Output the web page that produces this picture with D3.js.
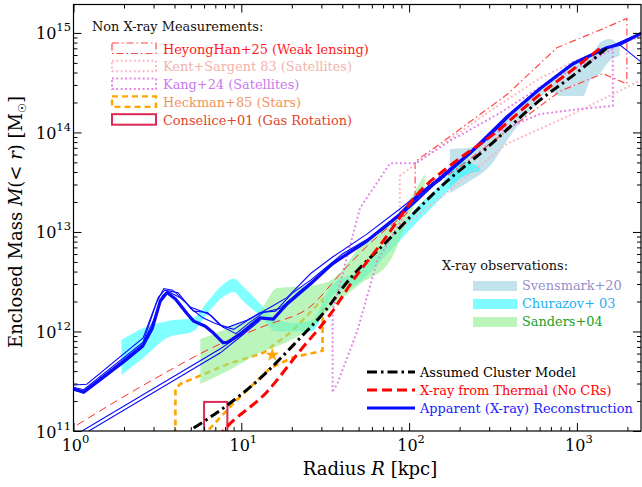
<!DOCTYPE html>
<html><head><meta charset="utf-8">
<script src="https://cdn.jsdelivr.net/npm/d3@7"></script>
<style>
body{margin:0;background:#fff;}
svg{display:block;}
text{font-family:"DejaVu Serif","Liberation Serif",serif;}
</style></head><body>
<svg id="chart" width="642" height="487"></svg>
<script>
// ---------------- DATA ----------------
const xTickVals = [1, 10, 100, 1000];
const yTickVals = [1e11, 1e12, 1e13, 1e14, 1e15];

// Assumed cluster model (black dash-dot)  [r kpc, M Msun]
const assumedModel = [[5.2,1.07e11],[8,1.75e11],[13,3.4e11],[22.4,8.6e11],[30,1.45e12],[44.5,3.4e12],[74,8.1e12],[105,1.5e13],[153,2.8e13],[291,7.0e13],[600,2.1e14],[1000,4.0e14],[1500,7.0e14]];
// X-ray from thermal (red dashed)
const thermalXray = [[7.2,0.85e11],[7.8,1e11],[14.3,2.5e11],[22.4,6.4e11],[35,1.6e12],[46,3.2e12],[70,8.1e12],[112,2.4e13],[183,4.9e13],[316,9.5e13],[600,2.4e14],[1000,4.6e14],[1400,7.2e14]];
// thin red dashed
const thinRedDashed = [[1.05,1.15e11],[3,3.3e11],[7.5,7.5e11],[14,1.15e12],[26,1.8e12],[40,4e12],[60,8e12],[100,1.6e13]];

// Apparent (X-ray) reconstruction: thick + thin realisations
const apparentThick = [[1.0,2.65e11],[1.15,2.45e11],[1.45,3.3e11],[2.0,5.0e11],[2.58,7.1e11],[2.95,1.08e12],[3.29,2.03e12],[3.61,2.46e12],[4.05,2.12e12],[4.77,1.5e12],[5.2,1.27e12],[6.1,1.13e12],[6.8,9.7e11],[7.8,7.7e11],[8.3,7.8e11],[9.8,9.4e11],[12.9,1.37e12],[15.5,1.33e12],[18.8,1.9e12],[25.8,3.0e12],[35,4.8e12],[56,8.1e12],[88,1.5e13],[116,2.4e13],[153,3.4e13],[231,6.2e13],[383,1.43e14],[602,2.75e14],[945,4.9e14],[1510,7.1e14],[1800,7.7e14],[2450,1.0e15]];
const apparentThinA = [[1.0,2.9e11],[1.2,2.95e11],[2.6,8.6e11],[3.1,1.9e12],[3.45,2.7e12],[3.9,2.6e12],[4.5,2.1e12],[5.2,1.6e12],[6.3,1.55e12],[7.5,1.15e12],[9,1.05e12],[10.8,1.28e12],[14.3,1.68e12],[18.8,2.2e12],[25.8,3.8e12],[35,5.6e12],[56,9.5e12],[90,1.75e13],[150,3.5e13],[231,6.4e13],[383,1.47e14],[602,2.8e14],[945,4.95e14],[1500,7.2e14],[1800,7.6e14],[2450,5.0e14]];
const apparentThinB = [[1.0,2.75e11],[1.15,2.6e11],[2.6,7.8e11],[3.2,2.2e12],[3.5,2.6e12],[4.2,2.45e12],[5.0,1.7e12],[5.9,1.37e12],[7,1.2e12],[8.3,1.1e12],[10.8,1.3e12],[13,1.55e12],[16,1.6e12],[20,2.4e12],[26,3.3e12],[40,6e12],[60,9e12],[95,1.6e13],[160,3.8e13],[240,6.5e13],[400,1.55e14],[620,2.9e14],[1000,5.1e14],[1600,7.3e14],[2450,1.02e15]];
const apparentThinC = [[1.0,2.55e11],[1.15,2.5e11],[2.58,7.4e11],[3.0,1.3e12],[3.4,2.3e12],[3.7,2.5e12],[4.3,2.2e12],[5,1.75e12],[5.8,1.6e12],[6.6,1.45e12],[7.8,1.1e12],[9.3,9.5e11],[11,1.2e12],[13.5,1.55e12],[17,1.7e12],[22,2.5e12],[30,3.8e12],[45,6.5e12],[70,1.05e13],[110,2e13],[170,4e13],[280,8e13],[450,1.8e14],[700,3.4e14],[1100,5.6e14],[1600,7.4e14],[2450,1.01e15]];
const apparentLow1 = [[1.0,0.89e11],[7.5,6.7e11],[10,9.3e11],[13,1.35e12]];
const apparentLow2 = [[1.0,0.81e11],[7.5,6.1e11],[10,9.0e11],[13,1.3e12]];

// X-ray observation bands
const churazovR  = [1.93,2.6,3.6,5.2,6.3,8.0,9.0,10.3,13,16,20,26,35,50,75,110,160,200,265];
const churazovLo = [3.66e11,5.4e11,8.6e11,1.01e12,1.53e12,2.3e12,2.5e12,2.0e12,1.43e12,1.0e12,1.0e12,1.0e12,2.27e12,3.07e12,6.1e12,1.23e13,2.3e13,3.4e13,4.1e13];
const churazovHi = [8.2e11,1.08e12,1.27e12,1.37e12,2.0e12,3.07e12,3.4e12,2.8e12,1.89e12,1.34e12,1.22e12,1.28e12,3.0e12,4.05e12,8.1e12,1.74e13,3.2e13,5.2e13,4.5e13];

const sandersR  = [5.7,8.27,12.9,16.4,25.8,35.3,51.3,77,101,124];
const sandersLo = [2.97e11,4.0e11,6.1e11,7.1e11,1.08e12,1.8e12,3.0e12,5.1e12,1.5e13,2.9e13];
const sandersHi = [8.4e11,1.08e12,1.61e12,2.74e12,2.87e12,3.37e12,7.2e12,1.2e13,2.15e13,3.83e13];

const svensmarkR  = [175,231,303,400,525,691,790,975,1090,1195,1370,1560,1800];
const svensmarkLo = [2.47e13,3.26e13,4.6e13,9.2e13,1.64e14,2.6e14,2.33e14,2.33e14,2.33e14,3.3e14,3.9e14,5.2e14,5.9e14];
const svensmarkHi = [6.8e13,7.0e13,9.9e13,1.57e14,2.33e14,3.3e14,3.7e14,5.0e14,5.5e14,5.6e14,7.9e14,8.7e14,7.4e14];

// Non X-ray measurements (outlines)
const heyongHan = [[108.6,2.2e13],[108.6,5.1e13],[153,7.7e13],[383,2.4e14],[760,7.1e14],[1430,1.1e15],[1985,1.4e15],[1985,3.07e14],[1430,3.9e14],[794,2.6e14],[400,1.1e14],[200,4.5e13]];
const kentSargent = [[88,3.65e13],[153,7.3e13],[303,1.64e14],[602,3.5e14],[1042,5.5e14],[2450,9.3e14],[2450,3.4e14],[945,1.53e14],[383,7.7e13],[153,2.2e13],[88,1.07e13]];
const kang = [[35,2.5e11],[35,1.6e12],[51,1.74e13],[77,4.9e13],[108.6,4.9e13],[175,8.2e13],[348,1.57e14],[691,3.3e14],[1195,5.2e14],[1637,6.9e14],[1637,1.85e14],[1042,1.72e14],[602,1.53e14],[348,1.04e14],[231,6.5e13],[153,3.65e13],[101,1.82e13],[64.5,5.1e12],[49,1.0e12],[37.3,2.97e11]];
const heckman = [[4.05,0.9e11],[4.05,2.64e11],[4.33,2.97e11],[8.3,4.7e11],[13.5,6.1e11],[20,1.0e12],[30.5,2.1e12],[30.5,6.4e11],[20.4,5.5e11],[14.9,4.3e11],[8.9,1.87e11],[6.3,1e11],[5.9,0.9e11]];
const heckmanStar = [15.3, 5.8e11];
const conselice = [[6.0,0.9e11],[8.26,1.96e11]];

// Legend labels
const nonXrayTitle = "Non X-ray Measurements:";
const nonXrayLabels = ["HeyongHan+25 (Weak lensing)","Kent+Sargent 83 (Satellites)","Kang+24 (Satellites)","Heckman+85 (Stars)","Conselice+01 (Gas Rotation)"];
const xrayTitle = "X-ray observations:";
const xrayLabels = ["Svensmark+20","Churazov+ 03","Sanders+04"];
const modelLabels = ["Assumed Cluster Model","X-ray from Thermal (No CRs)","Apparent (X-ray) Reconstruction"];

// ---------------- STYLES ----------------
const C = {
  heyong:"#ff4a4a", kent:"#ffb3bf", kang:"#e57fe8", heckman:"#ffa500", conselice:"#dc2a55",
  svensmark:"#add8e6", churazov:"#00ffff", sanders:"#90ee90", blue:"#0a0aff"
};
const nonXrayText = ["#ff1a1a","#f2b3aa","#cc77ee","#f4935c","#e0452a"];
const xrayText = ["#9490cc","#1ab2f5","#22a022"];
const modelText = ["#000","#ff0000","#2020ff"];

// ---------------- CHART ----------------
const svg = d3.select("#chart");
const L=73.5, R=641, T=4.5, B=431;
const x = d3.scaleLog().domain([1,2410]).range([L,R]);
const y = d3.scaleLog().domain([1e11,1.93e15]).range([B,T]);

svg.append("defs").append("clipPath").attr("id","clip")
  .append("rect").attr("x",L).attr("y",T).attr("width",R-L).attr("height",B-T);
const g = svg.append("g").attr("clip-path","url(#clip)");

const line = d3.line().x(d=>x(d[0])).y(d=>y(d[1]));
const smooth = d3.line().x(d=>x(d[0])).y(d=>y(d[1])).curve(d3.curveMonotoneX);
const poly = d3.line().x(d=>x(d[0])).y(d=>y(d[1])).curve(d3.curveLinearClosed);
const band = (rs,lo,hi)=>d3.area().x((d,i)=>x(rs[i])).y0((d,i)=>y(lo[i])).y1((d,i)=>y(hi[i])).curve(d3.curveMonotoneX)(rs);

// Heckman outline, Conselice rectangle, star
g.append("path").attr("d",poly(heckman)).attr("fill","none").attr("stroke",C.heckman)
  .attr("stroke-width",2.6).attr("stroke-dasharray","6,4");
g.append("rect").attr("x",x(conselice[0][0])).attr("y",y(conselice[1][1]))
  .attr("width",x(conselice[1][0])-x(conselice[0][0])).attr("height",y(conselice[0][1])-y(conselice[1][1]))
  .attr("fill","none").attr("stroke",C.conselice).attr("stroke-width",2);
g.append("path").attr("d",d3.symbol(d3.symbolStar).size(60)())
  .attr("transform",`translate(${x(heckmanStar[0])},${y(heckmanStar[1])})`).attr("fill","#ffa500");

// bands
g.append("path").attr("d",band(svensmarkR,svensmarkLo,svensmarkHi)).attr("fill",C.svensmark).attr("fill-opacity",0.75);
g.append("path").attr("d",band(churazovR,churazovLo,churazovHi)).attr("fill",C.churazov).attr("fill-opacity",0.5);
g.append("path").attr("d",band(sandersR,sandersLo,sandersHi)).attr("fill",C.sanders).attr("fill-opacity",0.6);

// non x-ray outlines
g.append("path").attr("d",poly(heyongHan)).attr("fill","none").attr("stroke",C.heyong)
  .attr("stroke-width",1.2).attr("stroke-dasharray","7,3,1.5,3");
g.append("path").attr("d",poly(kentSargent)).attr("fill","none").attr("stroke",C.kent)
  .attr("stroke-width",2).attr("stroke-dasharray","1.8,2.6");
g.append("path").attr("d",poly(kang)).attr("fill","none").attr("stroke",C.kang)
  .attr("stroke-width",2).attr("stroke-dasharray","1.8,2.6");

// thin red dashed
g.append("path").attr("d",smooth(thinRedDashed)).attr("fill","none").attr("stroke","#ff2a2a")
  .attr("stroke-width",1).attr("stroke-dasharray","8,5");

// blue reconstructions
[apparentLow1,apparentLow2,apparentThinA,apparentThinB,apparentThinC].forEach(d=>{
  g.append("path").attr("d",line(d)).attr("fill","none").attr("stroke",C.blue).attr("stroke-width",1.1);
});
g.append("path").attr("d",line(apparentThick)).attr("fill","none").attr("stroke",C.blue)
  .attr("stroke-width",3.2).attr("stroke-linejoin","round");

// model lines
g.append("path").attr("d",smooth(assumedModel)).attr("fill","none").attr("stroke","#000")
  .attr("stroke-width",3).attr("stroke-dasharray","10,4,2.5,4");
g.append("path").attr("d",smooth(thermalXray)).attr("fill","none").attr("stroke","#ff0000")
  .attr("stroke-width",3).attr("stroke-dasharray","10,5");

// ---------------- AXES ----------------
const minorX=[], minorY=[];
[1,10,100,1000].forEach(b=>{for(let k=2;k<=9;k++){const v=k*b; if(v<2410) minorX.push(v);}});
[1e11,1e12,1e13,1e14,1e15].forEach(b=>{for(let k=2;k<=9;k++){const v=k*b; if(v<1.93e15) minorY.push(v);}});

function ax(gen, vals, size, tr){
  const a = svg.append("g").attr("transform",tr).call(gen.tickValues(vals).tickSize(size).tickFormat(""));
  a.select(".domain").remove();
  a.selectAll("line").attr("stroke","#000").attr("stroke-width",1);
}
ax(d3.axisBottom(x), xTickVals, -8, `translate(0,${B})`);
ax(d3.axisBottom(x), minorX, -4, `translate(0,${B})`);
ax(d3.axisTop(x), xTickVals, -8, `translate(0,${T})`);
ax(d3.axisTop(x), minorX, -4, `translate(0,${T})`);
ax(d3.axisLeft(y), yTickVals, -8, `translate(${L},0)`);
ax(d3.axisLeft(y), minorY, -4, `translate(${L},0)`);
ax(d3.axisRight(y), yTickVals, -8, `translate(${R},0)`);
ax(d3.axisRight(y), minorY, -4, `translate(${R},0)`);

svg.append("rect").attr("x",L).attr("y",T).attr("width",R-L).attr("height",B-T)
  .attr("fill","none").attr("stroke","#000").attr("stroke-width",1.2);

// tick labels
xTickVals.forEach(v=>{
  const t = svg.append("text").attr("x",x(v)+2).attr("y",451).attr("text-anchor","middle")
    .attr("font-size",16).text("10");
  t.append("tspan").attr("dy",-8).attr("font-size",11.5).text(Math.round(Math.log10(v)));
});
yTickVals.forEach(v=>{
  const t = svg.append("text").attr("x",71).attr("y",y(v)+6.5).attr("text-anchor","end")
    .attr("font-size",16).text("10");
  t.append("tspan").attr("dy",-8).attr("font-size",11.5).text(Math.round(Math.log10(v)));
});

// axis titles
const xt = svg.append("text").attr("x",370).attr("y",475).attr("text-anchor","middle").attr("font-size",18);
xt.append("tspan").text("Radius ");
xt.append("tspan").attr("font-style","italic").text("R");
xt.append("tspan").text(" [kpc]");

const yt = svg.append("text").attr("transform","translate(22,222) rotate(-90)").attr("text-anchor","middle").attr("font-size",18);
yt.append("tspan").text("Enclosed Mass ");
yt.append("tspan").attr("font-style","italic").text("M");
yt.append("tspan").text("(< ");
yt.append("tspan").attr("font-style","italic").text("r");
yt.append("tspan").text(") [M");
yt.append("tspan").attr("font-size",11).attr("dy",4).text("☉");
yt.append("tspan").attr("dy",-4).text("]");

// ---------------- LEGENDS ----------------
const LF = 12.9;
svg.append("text").attr("x",92).attr("y",31).attr("font-size",LF).attr("fill","#111").text(nonXrayTitle);
const nxStroke = [C.heyong,C.kent,C.kang,C.heckman,C.conselice];
const nxDash = ["7,3,1.5,3","1.8,2.6","1.8,2.6","6,4",null];
const nxW = [1.2,2,2,2.4,2];
nonXrayLabels.forEach((lab,i)=>{
  const yy = 43 + i*17.8;
  const r = svg.append("rect").attr("x",112).attr("y",yy).attr("width",44).attr("height",10.5)
    .attr("fill","none").attr("stroke",nxStroke[i]).attr("stroke-width",nxW[i]);
  if(nxDash[i]) r.attr("stroke-dasharray",nxDash[i]);
  svg.append("text").attr("x",163).attr("y",yy+10.5).attr("font-size",LF).attr("fill",nonXrayText[i]).text(lab);
});

svg.append("text").attr("x",442).attr("y",270).attr("font-size",LF).attr("fill","#111").text(xrayTitle);
const xrFill=[C.svensmark,C.churazov,C.sanders], xrOp=[0.75,0.5,0.6];
xrayLabels.forEach((lab,i)=>{
  const yy = 281 + i*18;
  svg.append("rect").attr("x",473).attr("y",yy).attr("width",44).attr("height",10)
    .attr("fill",xrFill[i]).attr("fill-opacity",xrOp[i]);
  svg.append("text").attr("x",522).attr("y",yy+9).attr("font-size",LF).attr("fill",xrayText[i]).text(lab);
});

const mStroke=["#000","#ff0000",C.blue], mDash=["10,4,2.5,4","10,5",null];
modelLabels.forEach((lab,i)=>{
  const yy = 372 + i*18;
  const l = svg.append("line").attr("x1",367).attr("x2",415).attr("y1",yy).attr("y2",yy)
    .attr("stroke",mStroke[i]).attr("stroke-width",3);
  if(mDash[i]) l.attr("stroke-dasharray",mDash[i]);
  svg.append("text").attr("x",420).attr("y",yy+5).attr("font-size",LF).attr("fill",modelText[i]).text(lab);
});
</script></body></html>
